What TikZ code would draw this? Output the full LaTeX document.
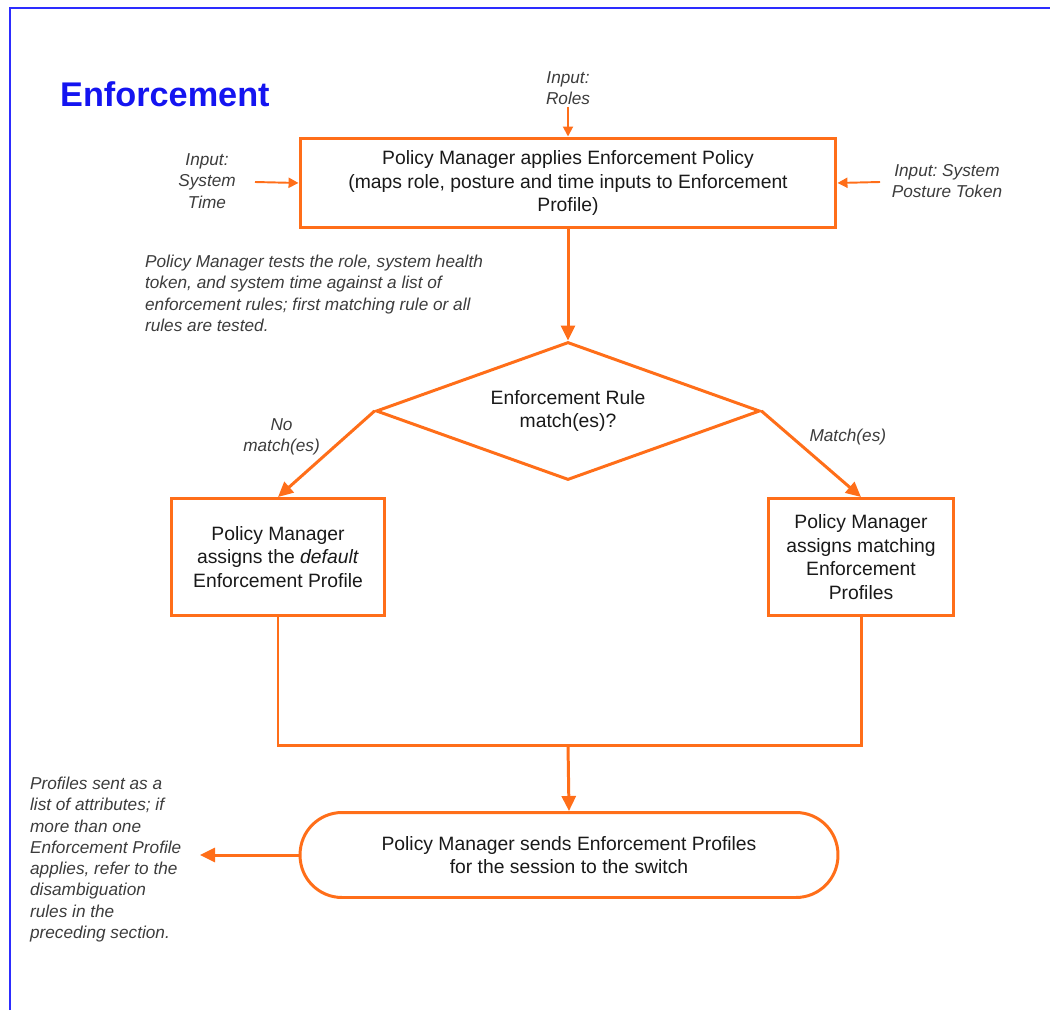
\documentclass[tikz,border=0pt]{standalone}
\usepackage{fontspec}
\setmainfont{Liberation Sans}
\frenchspacing
\usetikzlibrary{arrows.meta,shapes.geometric}
\definecolor{floworange}{RGB}{255,110,25}
\definecolor{titleblue}{RGB}{20,20,240}
\definecolor{frameblue}{RGB}{45,45,255}
\definecolor{notegray}{RGB}{60,60,60}
\definecolor{textdark}{RGB}{25,25,25}

\begin{document}
\begin{tikzpicture}[x=0.02cm, y=-0.02cm,
    box/.style={rectangle, draw=floworange, line width=1.7pt, align=center,
                font=\fontsize{11}{13.4}\selectfont, text=textdark, inner sep=2pt},
    decision/.style={diamond, shape aspect=2.8, draw=floworange, line width=1.7pt, align=center,
                font=\fontsize{11}{13.4}\selectfont, text=textdark, inner sep=0pt},
    terminal/.style={rectangle, rounded corners=0.84cm, draw=floworange, line width=1.7pt,
                align=center, font=\fontsize{11}{13.4}\selectfont, text=textdark},
    arrow/.style={-{Triangle[length=0.3cm, width=0.28cm]}, line width=1.7pt, draw=floworange},
    inarrow/.style={-{Triangle[length=0.2cm, width=0.2cm]}, line width=1.1pt, draw=floworange},
    flowline/.style={line width=1.7pt, draw=floworange},
    note_font/.style={font=\fontsize{9.8}{12.1}\selectfont\itshape, text=notegray, inner sep=1pt}
  ]
    \useasboundingbox (0,0) rectangle (1050,1010);
    \draw[frameblue, line width=1.6pt] (10,1010) -- (10,8) -- (1050,8);

    \node[font=\fontsize{19.5}{24}\selectfont\bfseries, text=titleblue, anchor=west] (title) at (54,94) {Enforcement};

    \node[box, minimum width=10.72cm, minimum height=1.8cm] (pm) at (568,183)
      {Policy Manager applies Enforcement Policy\\(maps role, posture and time inputs to Enforcement\\Profile)};
    \node[note_font, align=center] (roles) at (568,88) {Input:\\Roles};
    \node[note_font, align=center] (systime) at (207,181) {Input:\\System\\Time};
    \node[note_font, align=center] (posture) at (947,181) {Input: System\\Posture Token};
    \coordinate (stend) at (255,182);
    \coordinate (ptend) at (880,182);

    \node[note_font, align=left, anchor=north west] (tests) at (143,253)
      {Policy Manager tests the role, system health\\token, and system time against a list of\\enforcement rules; first matching rule or all\\rules are tested.};

    \node[decision, minimum width=7.68cm, minimum height=2.76cm] (rule) at (568,411)
      {Enforcement Rule\\match(es)?};

    \node[box, minimum width=4.26cm, minimum height=2.34cm] (dflt) at (278,557)
      {Policy Manager\\assigns the \textit{default}\\Enforcement Profile};
    \node[box, minimum width=3.7cm, minimum height=2.34cm] (match) at (861,557)
      {Policy Manager\\assigns matching\\Enforcement\\Profiles};

    \coordinate (join) at (568,745);
    \node[terminal, minimum width=10.76cm, minimum height=1.7cm] (send) at (569,855)
      {Policy Manager sends Enforcement Profiles\\for the session to the switch};
    \coordinate (sendout) at (200,855);
    \node[note_font, align=left, anchor=north west] (attrs) at (28,775)
      {Profiles sent as a\\list of attributes; if\\more than one\\Enforcement Profile\\applies, refer to the\\disambiguation\\rules in the\\preceding section.};

    \draw[inarrow] (roles.south) -- (pm.north);
    \draw[inarrow] (stend) -- (pm.west);
    \draw[inarrow] (ptend) -- (pm.east);
    \draw[arrow] (pm.south) -- (rule.north);
    \draw[arrow] (rule.west) -- node[pos=0.3, left, note_font, align=center, xshift=-0.45cm] (nomatch) {No\\match(es)} (dflt.north);
    \draw[arrow] (rule.east) -- node[pos=0.3, right, note_font, xshift=0.3cm] (yesmatch) {Match(es)} (match.north);
    \draw[flowline] (dflt.south) |- (join) -| (match.south);
    \draw[arrow] (join) -- (send.north);
    \draw[arrow] (send.west) -- (sendout);
  \end{tikzpicture}
\end{document}
